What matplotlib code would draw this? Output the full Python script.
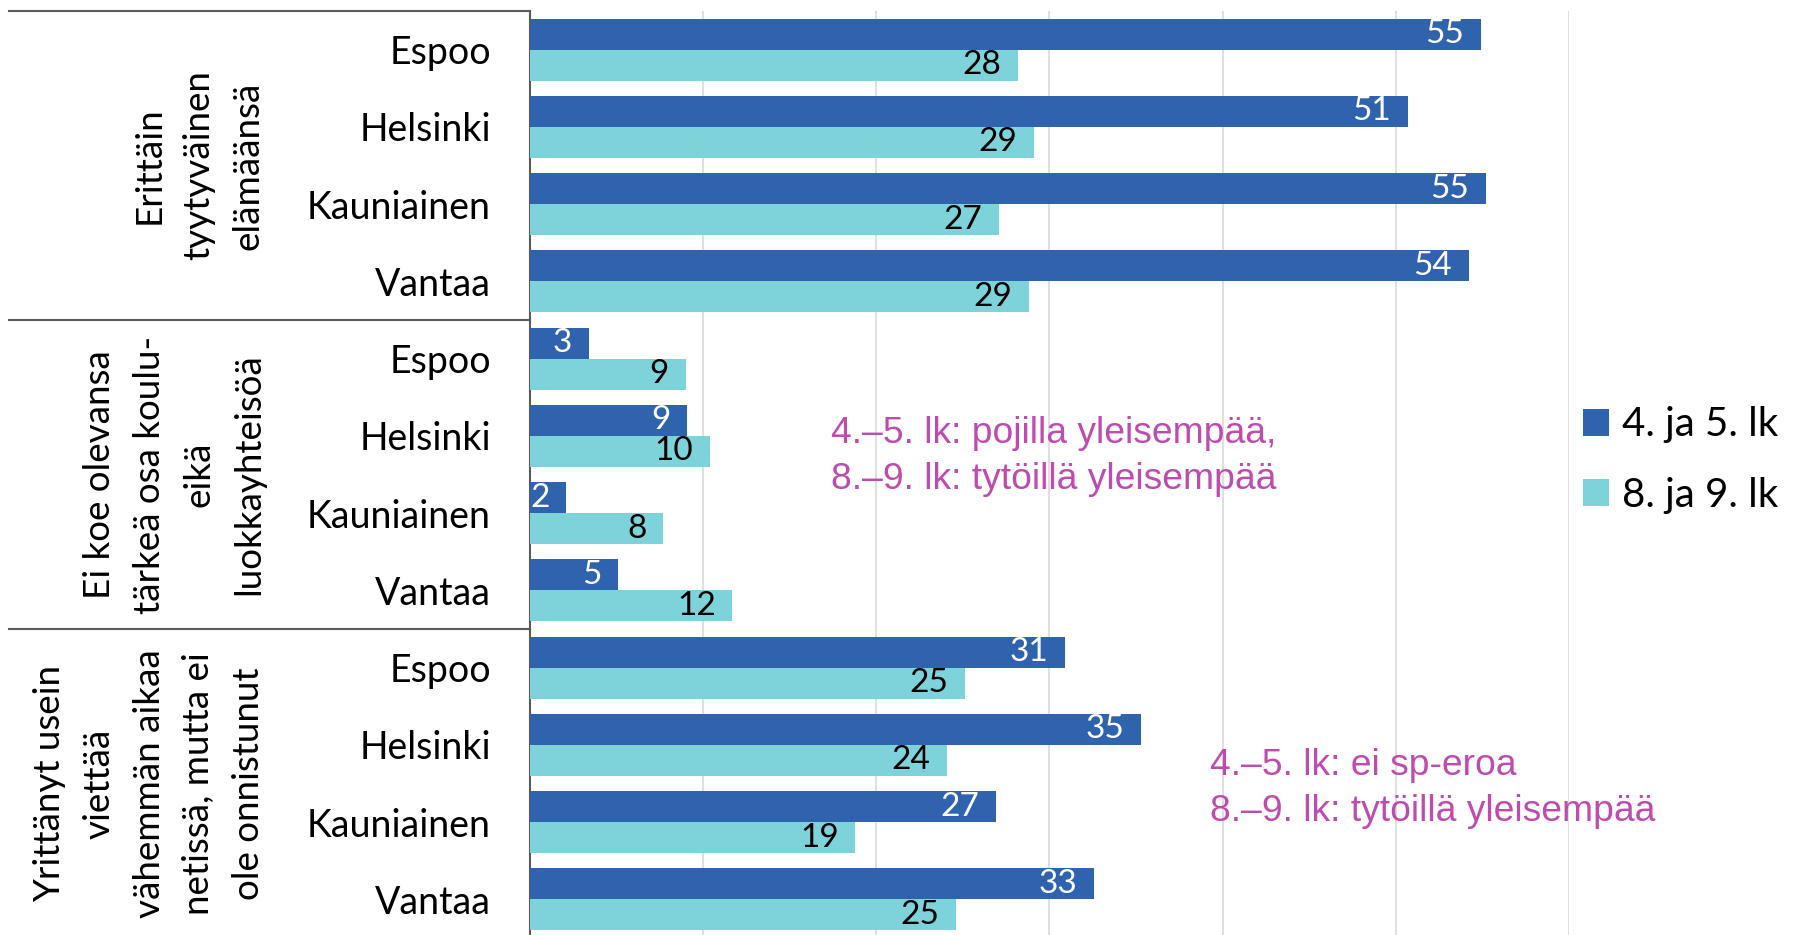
import numpy as np
import matplotlib
matplotlib.use("Agg")
import matplotlib.pyplot as plt
from matplotlib.lines import Line2D
from matplotlib.patches import Patch
from matplotlib.transforms import blended_transform_factory

# ---- data ----
cities = ["Espoo", "Helsinki", "Kauniainen", "Vantaa"]
groups = ["Erittäin\ntyytyväinen\nelämäänsä",
          "Ei koe olevansa\ntärkeä osa koulu-\neikä\nluokkayhteisöä",
          "Yrittänyt usein\nviettää\nvähemmän aikaa\nnetissä, mutta ei\nole onnistunut"]
lk45 = [54.9, 50.7, 55.2, 54.2, 3.4, 9.1, 2.1, 5.1, 30.9, 35.3, 26.9, 32.6]
lk89 = [28.2, 29.1, 27.1, 28.8, 9.0, 10.4, 7.7, 11.7, 25.1, 24.1, 18.8, 24.6]
series = ["4. ja 5. lk", "8. ja 9. lk"]
notes = ["4.\u20135. lk: pojilla yleisempää,\n8.\u20139. lk: tytöillä yleisempää",
         "4.\u20135. lk: ei sp-eroa\n8.\u20139. lk: tytöillä yleisempää"]
xticks = [0, 10, 20, 30, 40, 50, 60]

c_dark = "#3063AE"
c_light = "#7ED2D9"
c_note = "#BE4BAE"
c_line = "#5a5a5a"
FONT = "Lato"

W, H = 1806, 935
fig = plt.figure(figsize=(W/100, H/100), dpi=100)
ax = fig.add_axes([529.8/W, 1-938/H, (1569-529.8)/W, 927/H])

n = len(lk45)
y = np.arange(n)
bh = 0.4
ax.barh(y - bh/2, lk45, height=bh, color=c_dark, zorder=3)
ax.barh(y + bh/2, lk89, height=bh, color=c_light, zorder=3)

# value labels inside the bar ends
for i in range(n):
    ax.annotate(f"{lk45[i]:.0f}", xy=(lk45[i], y[i]-bh/2), xytext=(-12, 0), textcoords="offset points",
                ha="right", va="center", color="white", fontsize=24, family=FONT, zorder=4)
    ax.annotate(f"{lk89[i]:.0f}", xy=(lk89[i], y[i]+bh/2), xytext=(-12, 0), textcoords="offset points",
                ha="right", va="center", color="black", fontsize=24, family=FONT, zorder=4)

ax.set_xlim(0, 60)
ax.set_ylim(n - 0.5, -0.5)
ax.set_xticks(xticks)
ax.xaxis.grid(True, color="#d9d9d9", linewidth=1.2, zorder=0)
ax.tick_params(axis="x", length=0, labelbottom=False)
ax.set_yticks(y)
ax.set_yticklabels(cities * 3, fontsize=27, family=FONT)
ax.tick_params(axis="y", length=0, pad=28)
for s in ["top", "right", "bottom"]:
    ax.spines[s].set_visible(False)
ax.spines["left"].set_color(c_line)
ax.spines["left"].set_linewidth(1.5)

# table lines + group labels on the left
tr = blended_transform_factory(fig.transFigure, ax.transData)
x_left = 9/W
x_ax = 529.8/W
for k in range(len(groups) + 1):
    yy = k*4 - 0.5
    fig.add_artist(Line2D([x_left, x_ax], [yy, yy], transform=tr, color=c_line, linewidth=1.5, clip_on=False))
for k, g in enumerate(groups):
    fig.text(265/W, k*4 + 1.5, g, transform=tr, rotation=90, ha="right", va="center",
             multialignment="center", fontsize=26.5, family=FONT, linespacing=1.62)

# notes
ax.text(17.4, 5.27, notes[0], ha="left", va="center", color=c_note, fontsize=26.8,
        family="Liberation Sans", linespacing=1.4, zorder=5)
ax.text(39.3, 9.56, notes[1], ha="left", va="center", color=c_note, fontsize=26.8,
        family="Liberation Sans", linespacing=1.4, zorder=5)

handles = [Patch(facecolor=c_dark), Patch(facecolor=c_light)]
fig.legend(handles, series, loc="center left", bbox_to_anchor=(1583/W, 1-460/H),
           frameon=False, prop={"family": FONT, "size": 29}, handlelength=0.64, handleheight=0.64,
           handletextpad=0.32, labelspacing=0.82, borderpad=0, borderaxespad=0)

fig.savefig("out.png", dpi=100)
